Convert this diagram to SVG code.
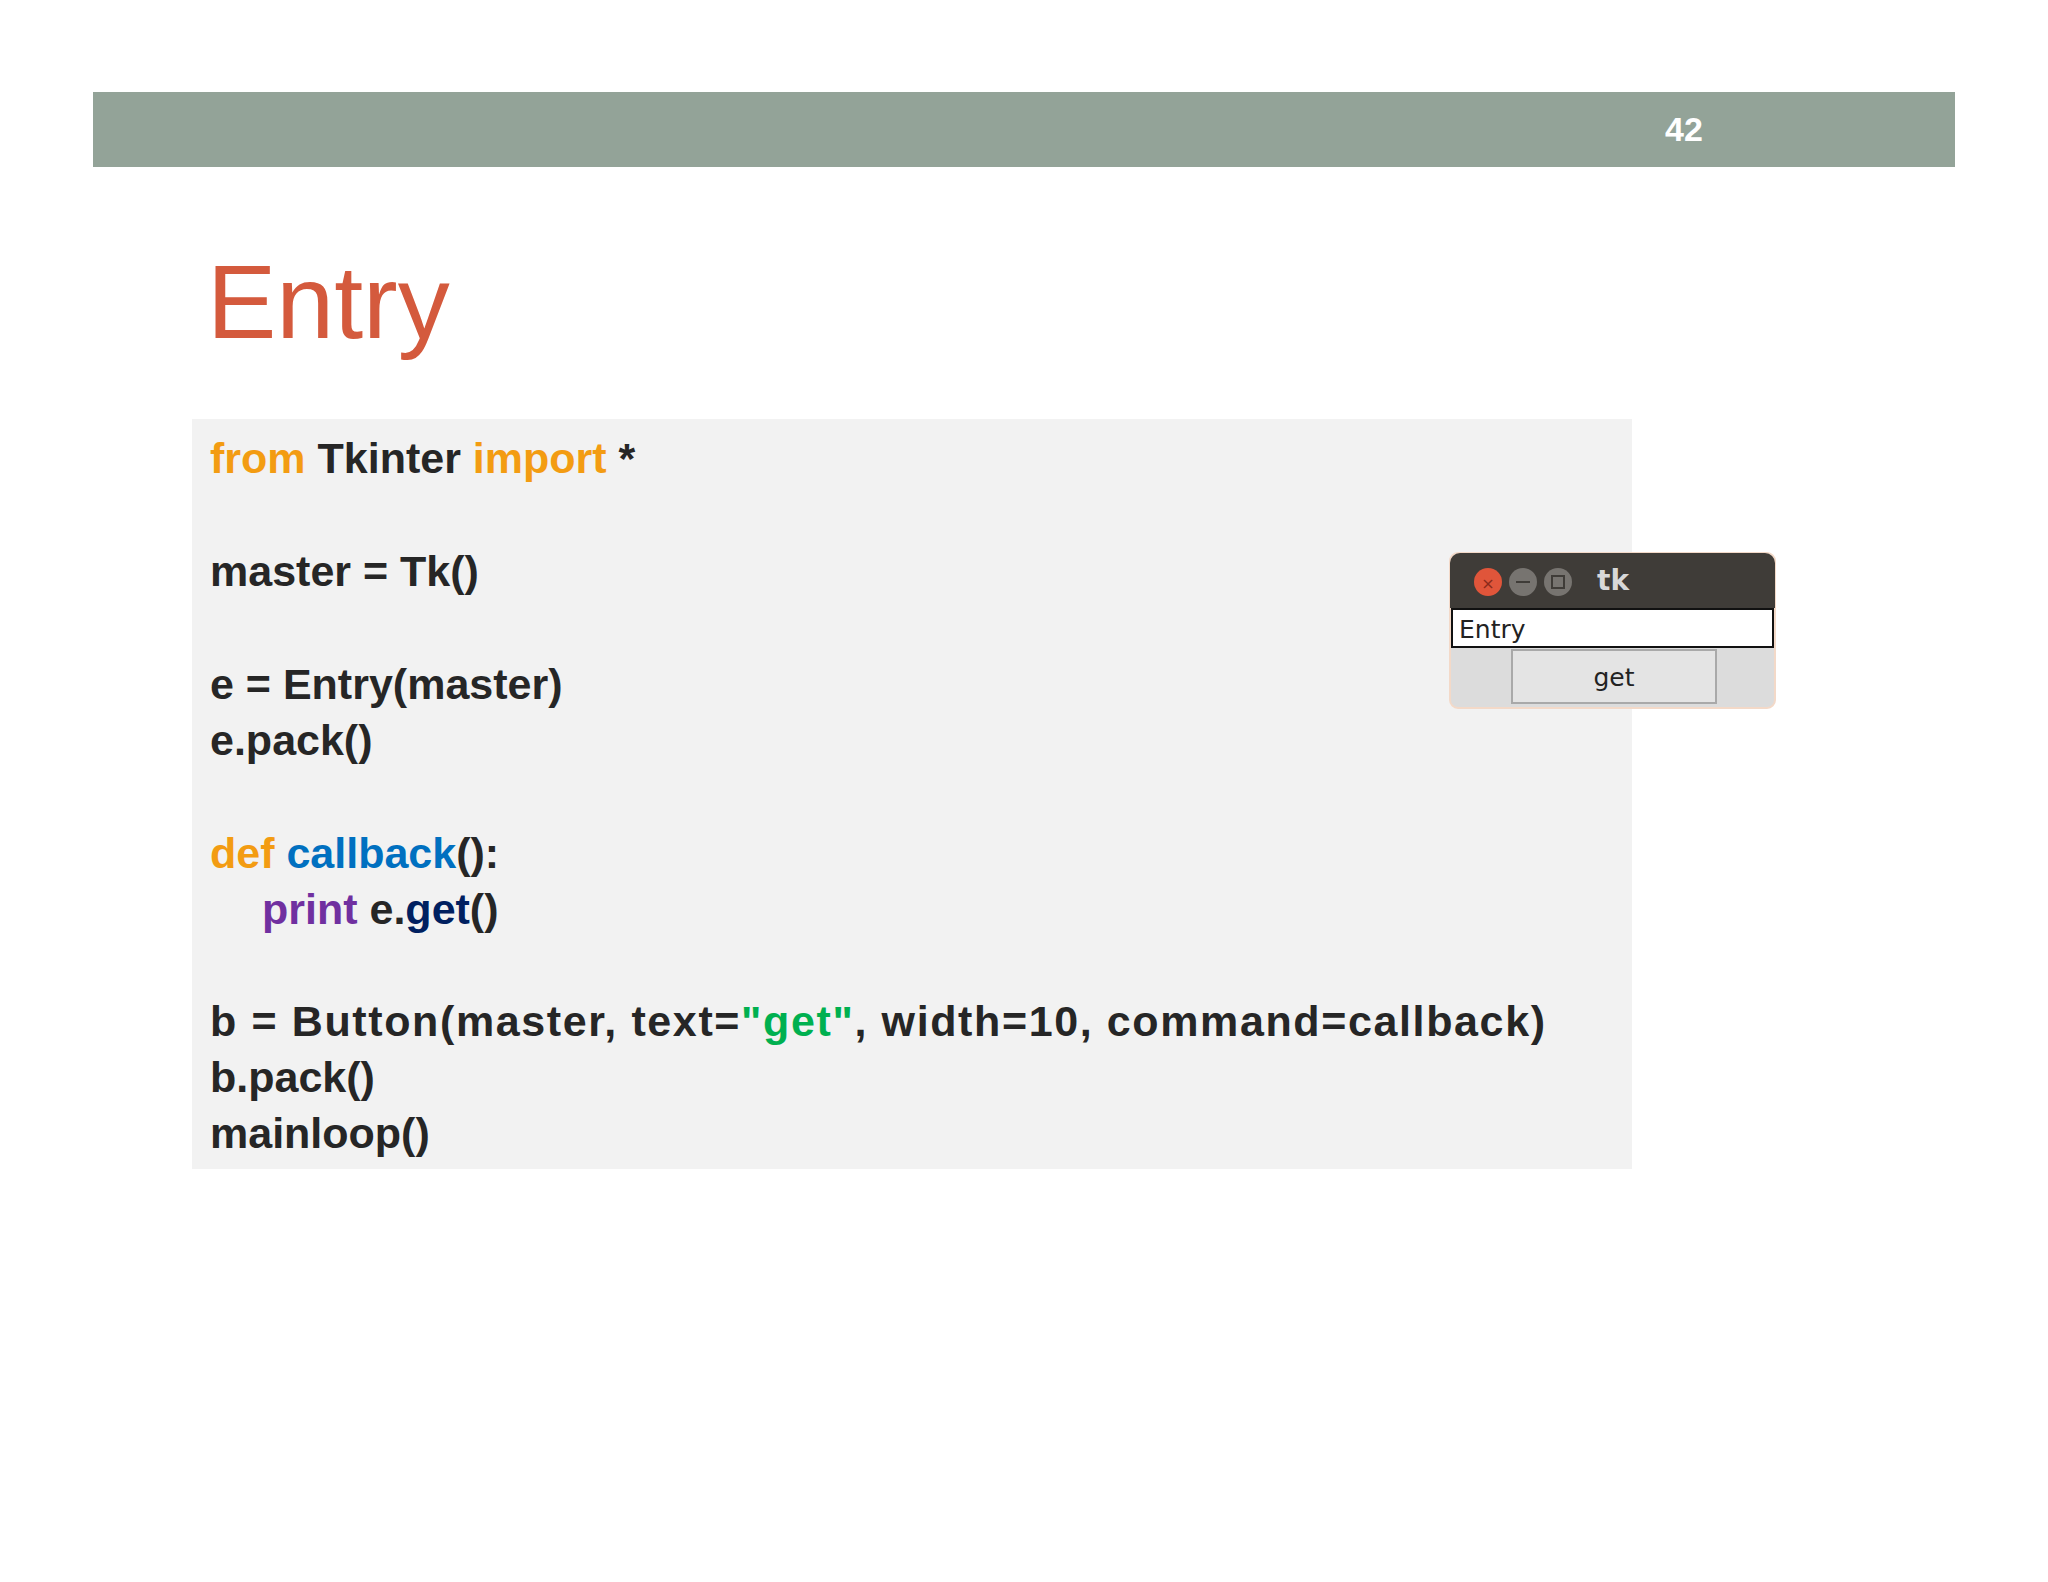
<svg xmlns="http://www.w3.org/2000/svg" width="2048" height="1582" viewBox="0 0 2048 1582">
<style>
.c{font-family:"Liberation Sans",Arial,sans-serif;font-weight:bold;font-size:43px;fill:#262626}
.o{fill:#f39c12}.bl{fill:#0070c0}.pu{fill:#7030a0}.nv{fill:#002060}.gr{fill:#00b050}
.u{font-family:"DejaVu Sans",sans-serif}
</style>
<rect width="2048" height="1582" fill="#fff"/>
<g id="header">
<rect x="93" y="92" width="1862" height="75" fill="#93a398"/>
<text x="1665" y="141" font-family="Liberation Sans,Arial,sans-serif" font-weight="bold" font-size="34" fill="#fff">42</text>
</g>
<g id="title"><text x="207" y="338" font-family="Liberation Sans,Arial,sans-serif" font-size="104" fill="#d45a3d">Entry</text></g>
<g id="code">
<rect x="192" y="419" width="1440" height="750" fill="#f2f2f2"/>
<text class="c" x="210" y="473"><tspan class="o">from</tspan> Tkinter <tspan class="o">import</tspan> *</text>
<text class="c" x="210" y="586">master = Tk()</text>
<text class="c" x="210" y="699">e = Entry(master)</text>
<text class="c" x="210" y="755">e.pack()</text>
<text class="c" x="210" y="868"><tspan class="o">def</tspan> <tspan class="bl">callback</tspan>():</text>
<text class="c" x="262" y="924"><tspan class="pu">print</tspan> e.<tspan class="nv">get</tspan>()</text>
<text class="c" x="210" y="1036" textLength="1335">b = Button(master, text=<tspan class="gr">"get"</tspan>, width=10, command=callback)</text>
<text class="c" x="210" y="1092">b.pack()</text>
<text class="c" x="210" y="1148">mainloop()</text>
</g>
<g id="tkwindow">
<rect x="1450" y="553" width="325" height="155" rx="8" fill="#dcdcdc" stroke="#f3d9c8" stroke-width="2"/>
<path d="M1450 608 V563 a10 10 0 0 1 10 -10 H1765 a10 10 0 0 1 10 10 V608 Z" fill="#3f3c38"/>
<circle cx="1488" cy="582" r="14" fill="#e0553a"/>
<text x="1488" y="589" class="u" font-size="16" fill="#8b2a1a" text-anchor="middle">×</text>
<circle cx="1523" cy="582" r="14" fill="#777470"/>
<rect x="1516" y="581" width="14" height="2" fill="#3f3c38"/>
<circle cx="1558" cy="582" r="14" fill="#777470"/>
<rect x="1552" y="576" width="12" height="12" fill="none" stroke="#3f3c38" stroke-width="2"/>
<text x="1597" y="590" class="u" font-weight="bold" font-size="28" fill="#d8d8d8">tk</text>
<rect x="1452" y="609" width="321" height="38" fill="#fff" stroke="#111" stroke-width="2"/>
<text x="1459" y="638" class="u" font-size="25" fill="#222">Entry</text>
<rect x="1512" y="650" width="204" height="53" fill="#e4e4e4" stroke="#a9a9a9" stroke-width="2"/>
<text x="1614" y="686" class="u" font-size="25" fill="#222" text-anchor="middle">get</text>
</g>
</svg>
